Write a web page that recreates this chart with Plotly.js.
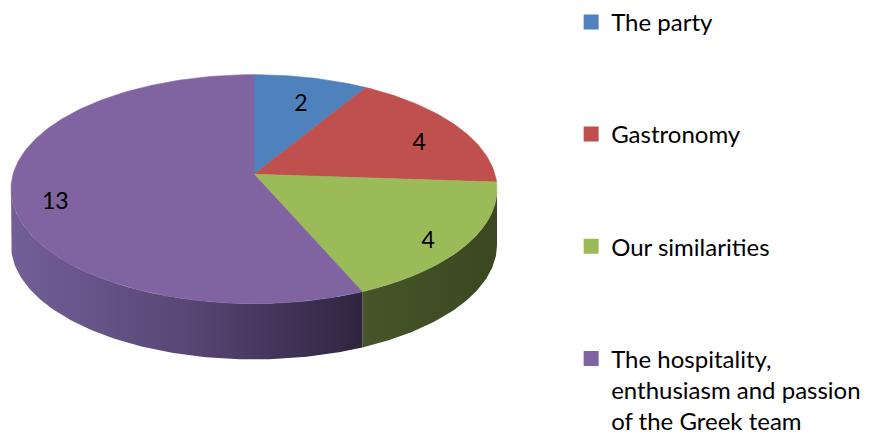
<!DOCTYPE html>
<html>
<head>
<meta charset="utf-8">
<script src="https://cdn.plot.ly/plotly-3.0.1.min.js"></script>
<style>html,body{margin:0;padding:0;background:#fff;}#chart{width:876px;height:441px;}</style>
</head>
<body>
<div id="chart"></div>
<script>
// ---- data ----
const categories = ['The party', 'Gastronomy', 'Our similarities', 'The hospitality,<br>enthusiasm and passion<br>of the Greek team'];
const values = [2, 4, 4, 13];
const labels = ['2', '4', '4', '13'];

// ---- style ----
const topColors = ['#4f81bd', '#c0504d', '#9bbb59', '#8064a2'];
const sideScales = [
  [[0, '#2c4566'], [1, '#22364f']],
  [[0, '#6b2c2a'], [1, '#552120']],
  [[0, '#46552a'], [1, '#3b4720']],
  [[0, '#735f97'], [0.5, '#584676'], [1, '#2f253f']]
];
const FONT = 'Lato, "Open Sans", sans-serif';

// ---- geometry of the tilted pie (pixel space) ----
const cx = 254, cy = 188, rx = 243, ry = 115, lift = 15, depth = 56;
const k = lift / ry;
const deg = Math.PI / 180;

function edgePoint(thetaDeg) {
  const u = Math.sin(thetaDeg * deg), v = -Math.cos(thetaDeg * deg);
  const t = v * k + Math.sqrt(v * v * k * k - k * k + 1);
  return [cx + rx * t * u, cy - lift + ry * t * v, t];
}
function paramOf(p) {
  let a = Math.atan2((p[0] - cx) / rx, -(p[1] - cy) / ry) / deg;
  if (a < 0) a += 360;
  return a;
}
function ellipsePt(phi, dy) {
  return [cx + rx * Math.sin(phi * deg), cy - ry * Math.cos(phi * deg) + dy];
}

const total = values.reduce((a, b) => a + b, 0);
const traces = [];
const tops = [];
const labelX = [], labelY = [];
let acc = 0;
values.forEach((val, i) => {
  const t0 = acc / total * 360;
  const t1 = (acc + val) / total * 360;
  acc += val;
  // top face
  const xs = [cx], ys = [cy - lift];
  const n = Math.max(4, Math.ceil(t1 - t0));
  for (let j = 0; j <= n; j++) {
    const p = edgePoint(t0 + (t1 - t0) * j / n);
    xs.push(p[0]); ys.push(p[1]);
  }
  xs.push(cx); ys.push(cy - lift);
  tops.push({
    type: 'scatter', mode: 'lines', x: xs, y: ys, fill: 'toself',
    fillcolor: topColors[i], line: {color: topColors[i], width: 0.6},
    hoverinfo: 'skip', showlegend: false
  });
  // side (front half only)
  let p0 = paramOf(edgePoint(t0)), p1 = paramOf(edgePoint(t1));
  if (t1 >= 359.999) p1 = 360;
  const a = Math.max(p0, 90), b = Math.min(p1, 270);
  if (b > a) {
    const sx = [], sy = [];
    const m = Math.ceil(b - a);
    for (let j = 0; j <= m; j++) { const q = ellipsePt(a + (b - a) * j / m, 0); sx.push(q[0]); sy.push(q[1]); }
    for (let j = m; j >= 0; j--) { const q = ellipsePt(a + (b - a) * j / m, depth); sx.push(q[0]); sy.push(q[1]); }
    sx.push(sx[0]); sy.push(sy[0]);
    traces.push({
      type: 'scatter', mode: 'lines', x: sx, y: sy, fill: 'toself',
      fillgradient: {type: 'horizontal', colorscale: sideScales[i]},
      line: {width: 0, color: 'rgba(0,0,0,0)'},
      hoverinfo: 'skip', showlegend: false
    });
  }
  // label position (inside end of the slice, slightly lowered for the slab)
  const mid = (t0 + t1) / 2;
  const e = edgePoint(mid);
  const f = 0.82;
  labelX.push(cx + (e[0] - cx) * f);
  labelY.push(cy - lift + (e[1] - (cy - lift)) * f + 10);
});

traces.push(...tops);
traces.push({
  type: 'scatter', mode: 'text', x: labelX, y: labelY, text: labels,
  textposition: 'middle center', textfont: {family: FONT, size: 23, color: '#000'},
  hoverinfo: 'skip', showlegend: false
});
categories.forEach((c, i) => {
  traces.push({
    type: 'scatter', mode: 'markers', x: [null], y: [null], name: c,
    legendgroup: 'g' + i,
    marker: {symbol: 'square', size: 15, color: topColors[i]},
    hoverinfo: 'skip', showlegend: true
  });
});

const layout = {
  width: 876, height: 441,
  margin: {l: 0, r: 0, t: 0, b: 0},
  paper_bgcolor: '#fff', plot_bgcolor: '#fff',
  xaxis: {range: [0, 876], visible: false, fixedrange: true},
  yaxis: {range: [441, 0], visible: false, fixedrange: true},
  showlegend: true,
  legend: {
    x: 0.652, y: 1.005, xanchor: 'left', yanchor: 'top',
    traceorder: 'grouped', tracegroupgap: 78, valign: 'top',
    maxheight: 800,
    font: {family: FONT, size: 24, color: '#000'},
    bgcolor: 'rgba(0,0,0,0)'
  },
  font: {family: FONT}
};

Plotly.newPlot('chart', traces, layout, {displayModeBar: false, staticPlot: true});
</script>
</body>
</html>
